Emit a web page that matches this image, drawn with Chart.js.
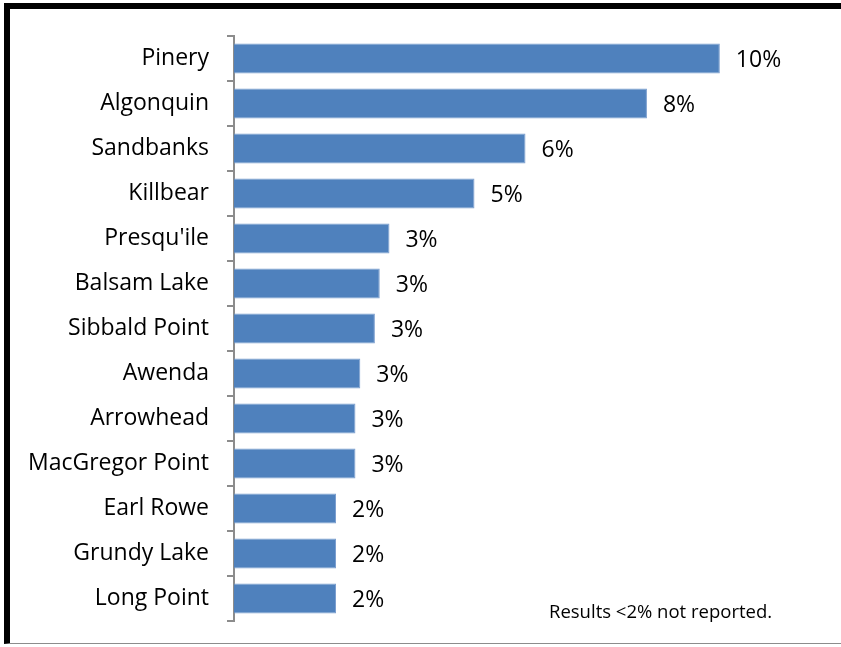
<!DOCTYPE html>
<html>
<head>
<meta charset="utf-8">
<script src="https://cdn.jsdelivr.net/npm/chart.js@4/dist/chart.umd.min.js"></script>
<style>
  html, body { margin: 0; padding: 0; background: #fff; }
  body { width: 841px; height: 647px; position: relative; overflow: hidden; }
  .frame {
    position: absolute; left: 4px; top: 3px; width: 900px; height: 641px;
    border-left: 6px solid #000; border-top: 6px solid #000; border-bottom: 1px solid #8c8c8c;
    box-sizing: border-box;
  }
  #grafico { position: absolute; left: 0; top: 0; }
  .nota {
    position: absolute; left: 549px; top: 598px;
    font-family: "Open Sans", sans-serif; font-size: 18.5px; color: #000;
  }
</style>
</head>
<body>
<div class="frame"></div>
<canvas id="grafico" width="841" height="647"></canvas>
<div class="nota">Results &lt;2% not reported.</div>
<script>
const parques = ["Pinery", "Algonquin", "Sandbanks", "Killbear", "Presqu'ile", "Balsam Lake",
    "Sibbald Point", "Awenda", "Arrowhead", "MacGregor Point", "Earl Rowe", "Grundy Lake", "Long Point"];
const porcentajes = [10.0, 8.5, 6.0, 4.95, 3.2, 3.0, 2.9, 2.6, 2.5, 2.5, 2.1, 2.1, 2.1];
const etiquetas = ["10%", "8%", "6%", "5%", "3%", "3%", "3%", "3%", "3%", "3%", "2%", "2%", "2%"];

const fuente = "'Open Sans', sans-serif";

// escribe el porcentaje a la derecha de cada barra
const etiquetasPlugin = {
    id: "etiquetas",
    afterDatasetsDraw(chart) {
        const ctx = chart.ctx;
        const meta = chart.getDatasetMeta(0);
        ctx.save();
        ctx.font = "23px " + fuente;
        ctx.fillStyle = "#000";
        ctx.textAlign = "left";
        ctx.textBaseline = "middle";
        meta.data.forEach((bar, i) => {
            ctx.fillText(etiquetas[i], bar.x + 16, bar.y + 2);
        });
        ctx.restore();
    }
};

const ctx = document.getElementById("grafico").getContext("2d");
new Chart(ctx, {
    type: "bar",
    data: {
        labels: parques,
        datasets: [{
            data: porcentajes,
            backgroundColor: "#4F81BD",
            borderColor: "#7C9FCF",
            borderWidth: 1,
            categoryPercentage: 0.67,
            barPercentage: 1
        }]
    },
    options: {
        indexAxis: "y",
        responsive: false,
        animation: false,
        layout: { padding: { top: 36, bottom: 26, right: 24, left: 0 } },
        plugins: {
            legend: { display: false },
            tooltip: { enabled: false }
        },
        scales: {
            x: { display: false, min: 0, max: 12 },
            y: {
                afterFit(scale) {
                    scale.width = 234;
                    scale.paddingTop = 0;
                    scale.paddingBottom = 0;
                },
                border: { display: true, color: "#8c8c8c", width: 2 },
                grid: { offset: true, drawOnChartArea: false, tickLength: 7, color: "#8c8c8c", lineWidth: 2 },
                ticks: { color: "#000", padding: 18, font: { family: fuente, size: 23 } }
            }
        }
    },
    plugins: [etiquetasPlugin]
});
</script>
</body>
</html>
